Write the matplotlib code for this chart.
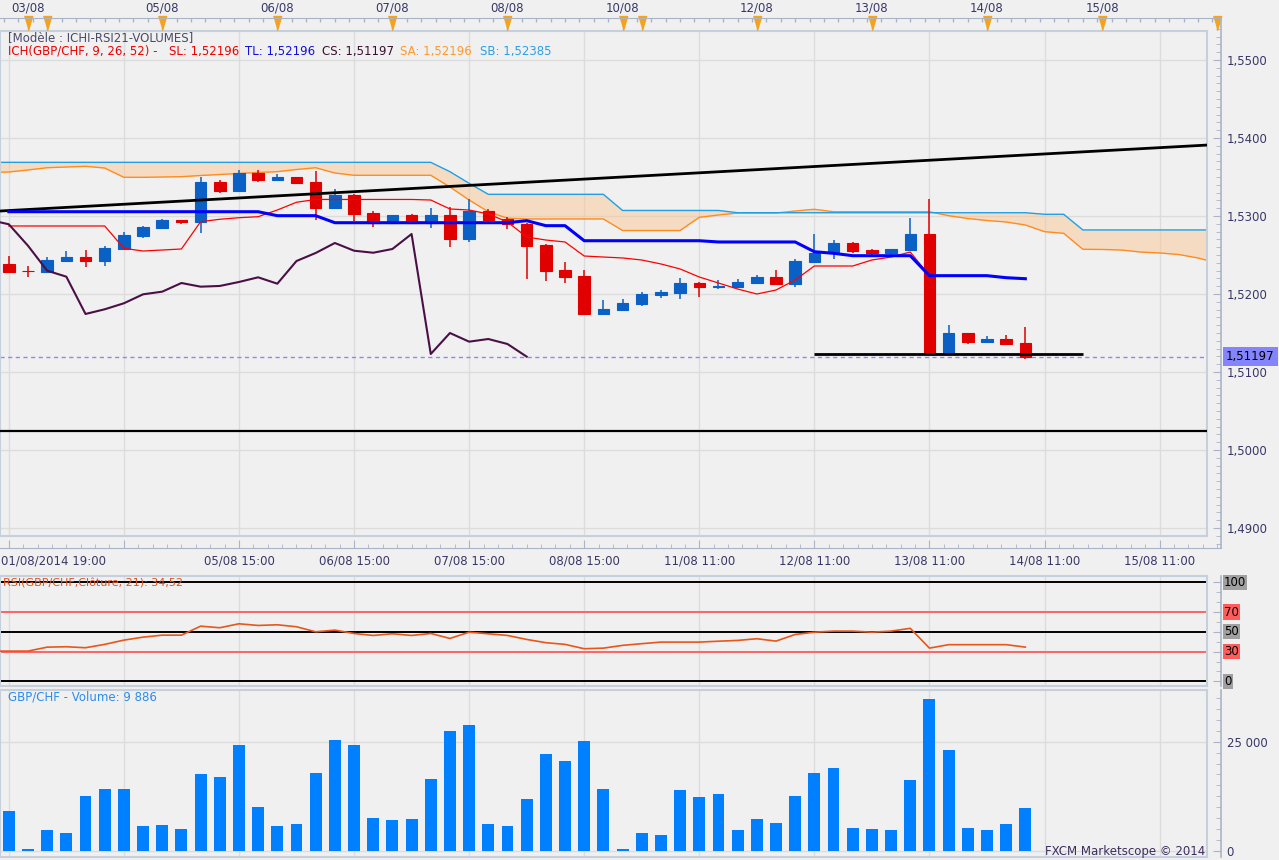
import numpy as np
import matplotlib.pyplot as plt
import matplotlib.transforms as mtransforms
from matplotlib.ticker import MultipleLocator, FixedLocator, FuncFormatter, NullFormatter

plt.rcParams['font.family'] = ['DejaVu Sans']
plt.rcParams['font.size'] = 8.5

# ---- GBP/CHF 4h candles ----
opens = [1.52385, 1.52301, 1.52286, 1.52427, 1.52470, 1.52427, 1.52577, 1.52744, 1.52842, 1.52945,
         1.52927, 1.53436, 1.53324, 1.53552, 1.53465, 1.53500, 1.53436, 1.53106, 1.53270, 1.53042,
         1.52914, 1.53013, 1.52914, 1.53013, 1.52705, 1.53064, 1.52962, 1.52897, 1.52628, 1.52308,
         1.52231, 1.51744, 1.51799, 1.51872, 1.51991, 1.52017, 1.52141, 1.52086, 1.52090, 1.52145,
         1.52218, 1.52132, 1.52414, 1.52529, 1.52654, 1.52564, 1.52529, 1.52564, 1.52773, 1.51231,
         1.51500, 1.51384, 1.51423, 1.51372]
highs = [1.52487, 1.52359, 1.52470, 1.52550, 1.52564, 1.52619, 1.52790, 1.52872, 1.52958, 1.52950,
         1.53504, 1.53460, 1.53590, 1.53590, 1.53538, 1.53505, 1.53577, 1.53346, 1.53280, 1.53068,
         1.53013, 1.53020, 1.53099, 1.53120, 1.53214, 1.53086, 1.52987, 1.52914, 1.52641, 1.52410,
         1.52308, 1.51923, 1.51936, 1.52026, 1.52055, 1.52205, 1.52150, 1.52180, 1.52196, 1.52248,
         1.52308, 1.52449, 1.52769, 1.52688, 1.52670, 1.52580, 1.52580, 1.52978, 1.53218, 1.51606,
         1.51505, 1.51466, 1.51474, 1.51581]
lows = [1.52282, 1.52222, 1.52282, 1.52427, 1.52342, 1.52363, 1.52570, 1.52722, 1.52829, 1.52897,
        1.52782, 1.53299, 1.53310, 1.53430, 1.53460, 1.53420, 1.52949, 1.53100, 1.52940, 1.52863,
        1.52910, 1.52893, 1.52849, 1.52606, 1.52670, 1.52919, 1.52833, 1.52196, 1.52171, 1.52145,
        1.51740, 1.51744, 1.51795, 1.51846, 1.51953, 1.51940, 1.51958, 1.52068, 1.52085, 1.52140,
        1.52130, 1.52086, 1.52410, 1.52445, 1.52529, 1.52500, 1.52500, 1.52551, 1.51230, 1.51230,
        1.51363, 1.51380, 1.51340, 1.51166]
closes = [1.52286, 1.52297, 1.52436, 1.52470, 1.52427, 1.52590, 1.52756, 1.52855, 1.52945, 1.52920,
          1.53440, 1.53324, 1.53552, 1.53465, 1.53500, 1.53427, 1.53106, 1.53270, 1.53026, 1.52914,
          1.53013, 1.52914, 1.53013, 1.52705, 1.53064, 1.52949, 1.52894, 1.52619, 1.52299, 1.52222,
          1.51744, 1.51804, 1.51881, 1.51996, 1.52030, 1.52141, 1.52094, 1.52103, 1.52154, 1.52214,
          1.52132, 1.52423, 1.52526, 1.52654, 1.52555, 1.52529, 1.52577, 1.52769, 1.51231, 1.51500,
          1.51389, 1.51423, 1.51359, 1.51197]
volumes = [9100, 390, 4750, 4060, 12550, 14150, 14150, 5660, 5900, 4980,
           17600, 16900, 24250, 10020, 5660, 6120, 17820, 25400, 24250, 7500,
           7040, 7270, 16450, 27460, 28840, 6120, 5660, 11860, 22180, 20580,
           25170, 14150, 390, 4060, 3600, 13920, 12320, 13000, 4750, 7270,
           6350, 12550, 17820, 18970, 5200, 4980, 4750, 16220, 34800, 23100,
           5200, 4750, 6120, 9886]

# Ichimoku (9, 26, 52)
tenkan = [1.53055, 1.53055, 1.53055, 1.53055, 1.53055, 1.53055, 1.53055, 1.53055, 1.53055, 1.53055,
          1.53055, 1.53055, 1.53055, 1.53055, 1.53004, 1.53004, 1.53004, 1.52914, 1.52914, 1.52914,
          1.52914, 1.52914, 1.52914, 1.52914, 1.52914, 1.52914, 1.52914, 1.52940, 1.52876, 1.52876,
          1.52683, 1.52683, 1.52683, 1.52683, 1.52683, 1.52683, 1.52683, 1.52667, 1.52667, 1.52667,
          1.52667, 1.52667, 1.52542, 1.52522, 1.52491, 1.52491, 1.52491, 1.52491, 1.52235, 1.52235,
          1.52235, 1.52235, 1.52209, 1.52196]
kijun = [1.52872, 1.52872, 1.52872, 1.52872, 1.52872, 1.52872, 1.52586, 1.52551, 1.52564, 1.52577,
         1.52927, 1.52958, 1.52978, 1.52991, 1.53077, 1.53176, 1.53212, 1.53212, 1.53212, 1.53212,
         1.53212, 1.53212, 1.53205, 1.53090, 1.53077, 1.53026, 1.52923, 1.52731, 1.52692, 1.52667,
         1.52487, 1.52474, 1.52462, 1.52436, 1.52385, 1.52321, 1.52218, 1.52141, 1.52064, 1.52000,
         1.52051, 1.52180, 1.52359, 1.52359, 1.52359, 1.52436, 1.52474, 1.52538, 1.52235, 1.52235,
         1.52235, 1.52235, 1.52209, 1.52196]
shift = 26
senkou_first = -27   # source candle of the first cloud value (drawn at -1)
senkou_a = [1.53558, 1.53564, 1.53590, 1.53619, 1.53628, 1.53637, 1.53615, 1.53496, 1.53496, 1.53500,
            1.53504, 1.53519, 1.53532, 1.53545, 1.53558, 1.53568, 1.53596, 1.53619, 1.53551, 1.53522,
            1.53522, 1.53522, 1.53522, 1.53522, 1.53372, 1.53205, 1.53055, 1.52971, 1.52962, 1.52962,
            1.52962, 1.52962, 1.52962, 1.52814, 1.52814, 1.52814, 1.52814, 1.52983, 1.53013, 1.53038,
            1.53038, 1.53038, 1.53064, 1.53086, 1.53055, 1.53055, 1.53055, 1.53055, 1.53055, 1.53055,
            1.53004, 1.52968, 1.52942, 1.52923, 1.52885, 1.52799, 1.52778, 1.52573, 1.52571, 1.52564,
            1.52538, 1.52526, 1.52506, 1.52462, 1.52397]
senkou_b = [1.53688, 1.53688, 1.53688, 1.53688, 1.53688, 1.53688, 1.53688, 1.53688, 1.53688, 1.53688,
            1.53688, 1.53688, 1.53688, 1.53688, 1.53688, 1.53688, 1.53688, 1.53688, 1.53688, 1.53688,
            1.53688, 1.53688, 1.53688, 1.53688, 1.53568, 1.53419, 1.53278, 1.53278, 1.53278, 1.53278,
            1.53278, 1.53278, 1.53278, 1.53071, 1.53071, 1.53071, 1.53071, 1.53071, 1.53071, 1.53042,
            1.53042, 1.53042, 1.53042, 1.53042, 1.53042, 1.53042, 1.53042, 1.53042, 1.53042, 1.53042,
            1.53042, 1.53042, 1.53042, 1.53042, 1.53042, 1.53022, 1.53022, 1.52821, 1.52821, 1.52821,
            1.52821, 1.52821, 1.52821, 1.52821, 1.52821]

# RSI(21), first value belongs to candle -1
rsi_first = -1
rsi = [30.5, 30.5, 30.5, 34.5, 34.9, 33.9, 37.3, 41.6, 44.6, 46.6,
       46.6, 55.7, 54.1, 58.1, 56.4, 57.1, 55.1, 50.0, 51.7, 48.3,
       46.3, 48.0, 46.3, 48.3, 43.3, 49.6, 48.0, 46.3, 42.3, 39.0,
       37.3, 32.9, 33.5, 36.3, 38.0, 39.6, 39.6, 39.6, 40.5, 41.3,
       43.0, 40.6, 47.3, 49.6, 50.7, 50.7, 49.6, 50.7, 53.5, 33.5,
       37.0, 37.0, 37.0, 37.0, 34.52]
rsi_levels = [0, 30, 50, 70, 100]

# drawn lines
trend_x = [0, 62]
trend_y = [1.53070, 1.53903]
support = 1.50243
low_line_from, low_line_to, low_line_level = 42, 56, 1.51231

# axis labels
day_marks = [1, 2, 8, 14, 20, 26, 32, 33, 39, 45, 51, 57, 63]
top_dates = {1: '03/08', 8: '05/08', 14: '06/08', 20: '07/08', 26: '08/08',
             32: '10/08', 39: '12/08', 45: '13/08', 51: '14/08', 57: '15/08'}
bottom_dates = {0: '01/08/2014 19:00', 12: '05/08 15:00', 18: '06/08 15:00', 24: '07/08 15:00',
                30: '08/08 15:00', 36: '11/08 11:00', 42: '12/08 11:00', 48: '13/08 11:00',
                54: '14/08 11:00', 60: '15/08 11:00'}

# ---- styling ----
W, H = 1279, 860
BG = '#f0f0f0'
FRAME = '#c6cfdc'
AXIS = '#a9b4c6'
GRID = '#dcdcdc'
TXT = '#383868'
UP = '#0a60c4'
DOWN = '#e00000'

opens, highs, lows, closes = map(np.array, (opens, highs, lows, closes))
x = np.arange(len(closes))


def idx(px):
    # horizontal pixel -> candle index (19.18 px per candle, first at 8.8 px)
    return (px - 8.8) / 19.18


def price(py):
    return 1.55 - (py - 60) / 7800


def rsi_at(py):
    return (681.3 - py) / 0.99


def vol_at(py):
    return (850.7 - py) * 229.36


def px_rect(x0, y0, x1, y1):
    return [x0 / W, 1 - y1 / H, (x1 - x0) / W, (y1 - y0) / H]


def panel(x1, y0, y1):
    a = fig.add_axes(px_rect(0, y0, x1, y1))
    a.set_xlim(idx(0), idx(x1))
    return a


def ftxt(px, py, s, color, **kw):
    kw.setdefault('va', 'center')
    fig.text(px / W, 1 - py / H, s, color=color, **kw)


def inner_style(a):
    a.set_facecolor(BG)
    for s in a.spines.values():
        s.set_color(FRAME)
        s.set_linewidth(1.5)
    a.set_xticks(np.arange(0, 63, 6))
    a.tick_params(length=0, labelleft=False, labelbottom=False)
    a.set_axisbelow(True)


def outer_style(a):
    a.patch.set_visible(False)
    for s in ('left', 'top', 'bottom'):
        a.spines[s].set_visible(False)
    a.spines['right'].set_color(AXIS)
    a.spines['right'].set_linewidth(1.2)
    a.set_xticks([])
    a.yaxis.tick_right()
    a.tick_params(axis='y', which='both', direction='in', color=AXIS,
                  labelcolor=TXT, labelsize=8.5, pad=4)
    a.tick_params(axis='y', which='major', length=6)
    a.tick_params(axis='y', which='minor', length=3.5)


fig = plt.figure(figsize=(W / 100, H / 100), dpi=100)
fig.patch.set_facecolor(BG)

# ================= main price panel =================
ax = panel(1207, 31, 536)
ax.set_ylim(price(536), price(31))
inner_style(ax)
ax.set_yticks(np.arange(1.49, 1.555, 0.01))
ax.grid(color=GRID, lw=1)

fr = panel(1221, 18, 548)
fr.set_ylim(price(548), price(18))
outer_style(fr)
fr.spines['top'].set_visible(True)
fr.spines['bottom'].set_visible(True)
fr.spines['top'].set_color(AXIS)
fr.spines['bottom'].set_color(AXIS)
fr.yaxis.set_major_locator(MultipleLocator(0.01))
fr.yaxis.set_minor_locator(MultipleLocator(0.001))
fr.yaxis.set_major_formatter(FuncFormatter(lambda v, p: f'{v:.4f}'.replace('.', ',')))
fr.xaxis.set_major_locator(FixedLocator(np.arange(0, 64, 6)))
fr.xaxis.set_minor_locator(FixedLocator(np.arange(0, 64, 0.75)))
fr.xaxis.set_minor_formatter(NullFormatter())
fr.tick_params(axis='x', which='both', direction='in', color=AXIS, labelbottom=False,
               bottom=True, top=False)
fr.tick_params(axis='x', which='major', length=6)
fr.tick_params(axis='x', which='minor', length=3)

# top date strip
tr_top = mtransforms.blended_transform_factory(fr.transData, fr.transAxes)
hpx = 530.0
fr.vlines(np.arange(-0.25, 63.5, 0.75), 1 - 4 / hpx, 1, transform=tr_top,
          color=AXIS, lw=1, clip_on=False)
fr.vlines(day_marks, 1 - 12 / hpx, 1, transform=tr_top, color=AXIS, lw=1, clip_on=False)
fr.plot(day_marks, [1 - 5 / hpx] * len(day_marks), ls='none',
        marker=[(-3, 5), (3, 5), (0, -5)], ms=10, color='#f7a21b',
        transform=tr_top, clip_on=False)
for k, s in top_dates.items():
    fr.text(k, 1 + 10 / hpx, s, transform=tr_top, ha='center', va='center',
            color=TXT, fontsize=8.5)

tr_fig = mtransforms.blended_transform_factory(fr.transData, fig.transFigure)
for k, s in bottom_dates.items():
    fr.text(k if k else idx(1), 1 - 561 / H, s, transform=tr_fig,
            ha='left' if k == 0 else 'center', va='center', color=TXT, fontsize=8.5)

# cloud
shift_x = np.arange(len(senkou_a)) + senkou_first + shift
ax.fill_between(shift_x, senkou_a, senkou_b, color='#fbc38c', alpha=0.45, lw=0, zorder=1.5)
ax.plot(shift_x, senkou_a, color='#ff8c1e', lw=1, zorder=2)
ax.plot(shift_x, senkou_b, color='#1ea0e6', lw=1, zorder=2)

# candles
colors = np.where(closes >= opens, UP, DOWN)
ax.vlines(x, lows, highs, colors=colors, lw=1.1, zorder=3)
ax.bar(x, closes - opens, bottom=opens, width=0.6, color=colors, edgecolor=colors,
       lw=0.8, zorder=4)

# drawn lines and indicators
ax.axline((trend_x[0], trend_y[0]), (trend_x[1], trend_y[1]), color='black', lw=2, zorder=6)
ax.axhline(support, color='black', lw=1.6, zorder=6)
ax.hlines(low_line_level, low_line_from, low_line_to, color='black', lw=2, zorder=6)
ax.axhline(closes[-1], color='#8c88f5', lw=1, ls=(0, (3, 2.5)), zorder=2)
ax.plot(x, kijun, color='#ff0000', lw=0.9, zorder=5)
ax.plot(x, tenkan, color='#0000ff', lw=2.2, zorder=6)
ax.plot(x - shift, closes, color='#4a1046', lw=1.5, zorder=6)

tr_px = mtransforms.blended_transform_factory(fr.transAxes, fr.transData)
fr.text(1 + 5 / 1221, closes[-1], f'{closes[-1]:.5f}'.replace('.', ','), transform=tr_px,
        ha='left', va='center', color='black', fontsize=8.5,
        bbox=dict(boxstyle='square,pad=0.25', fc='#8484ff', ec='none'))

# header legend
ftxt(8, 38, '[Modèle : ICHI-RSI21-VOLUMES]', '#4a4a6a')
ftxt(8, 51, 'ICH(GBP/CHF, 9, 26, 52) -', '#ee0000')
ftxt(169, 51, f'SL: {kijun[-1]:.5f}'.replace('.', ','), '#ee0000')
ftxt(245, 51, f'TL: {tenkan[-1]:.5f}'.replace('.', ','), '#1010e0')
ftxt(322, 51, f'CS: {closes[-1]:.5f}'.replace('.', ','), '#3a1030')
ftxt(400, 51, 'SA: 1,52196', '#ff9a30')
ftxt(480, 51, 'SB: 1,52385', '#2aa0e8')

# ================= RSI panel =================
ax_r = panel(1207, 576, 686)
ax_r.set_ylim(rsi_at(686), rsi_at(576))
inner_style(ax_r)
ax_r.set_yticks([])
ax_r.grid(axis='x', color=GRID, lw=1)
for lv in rsi_levels:
    ax_r.axhline(lv, color='#ff6464' if lv in (30, 70) else 'black', lw=1.4, zorder=2)
ax_r.plot(np.arange(len(rsi)) + rsi_first, rsi, color='#e8561a', lw=1.2, zorder=3)
ftxt(3, 584, f'RSI(GBP/CHF.Clôture, 21): {rsi[-1]:.2f}'.replace('.', ','), '#e0501e', fontsize=8)

fr_r = panel(1221, 576, 686)
fr_r.set_ylim(rsi_at(686), rsi_at(576))
outer_style(fr_r)
fr_r.yaxis.set_major_locator(FixedLocator(rsi_levels))
fr_r.yaxis.set_minor_locator(MultipleLocator(10))
fr_r.yaxis.set_major_formatter(NullFormatter())
tr_r = mtransforms.blended_transform_factory(fr_r.transAxes, fr_r.transData)
for lv in rsi_levels:
    fr_r.text(1 + 3 / 1221, lv, str(lv), transform=tr_r, ha='left', va='center',
              color='black', fontsize=8.5,
              bbox=dict(boxstyle='square,pad=0.1',
                        fc='#ff5c5c' if lv in (30, 70) else '#a0a0a0', ec='none'))

# ================= volume panel =================
ax_v = panel(1207, 690, 857)
ax_v.set_ylim(vol_at(857), vol_at(690))
inner_style(ax_v)
ax_v.set_yticks([0, 25000])
ax_v.grid(color=GRID, lw=1)
ax_v.bar(x, volumes, width=0.62, color='#0080ff', zorder=3)
ftxt(8, 697, f'GBP/CHF - Volume: {volumes[-1]:,}'.replace(',', ' '), '#2a8cf0')
ftxt(1205, 851, 'FXCM Marketscope © 2014', '#3c2d5c', ha='right')

fr_v = panel(1221, 690, 857)
fr_v.set_ylim(vol_at(857), vol_at(690))
outer_style(fr_v)
fr_v.yaxis.set_major_locator(FixedLocator([0, 25000]))
fr_v.yaxis.set_minor_locator(MultipleLocator(2500))
fr_v.yaxis.set_major_formatter(FuncFormatter(lambda v, p: f'{v:,.0f}'.replace(',', ' ')))

fig.savefig('out.png', dpi=100, facecolor=BG)
